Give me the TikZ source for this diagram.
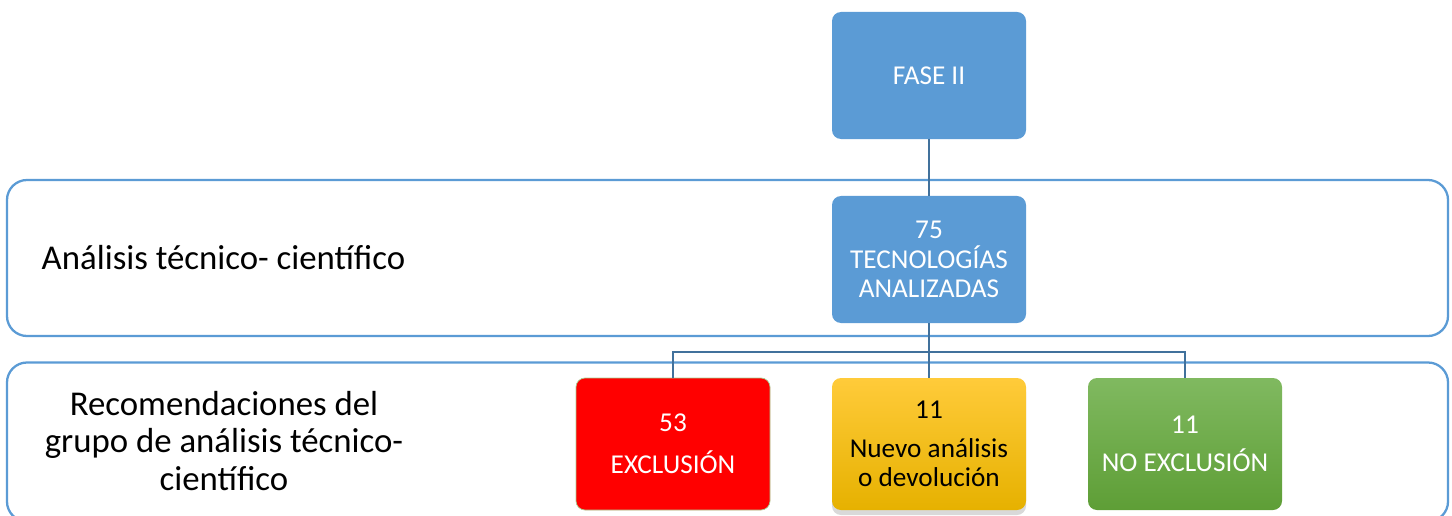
\documentclass[tikz,border=0pt]{standalone}
\usepackage{fontspec}
\setmainfont{Carlito}
\usepackage{tikz}
\usetikzlibrary{shapes,calc,positioning,shadows}
\definecolor{azul}{HTML}{5B9BD5}
\definecolor{azulosc}{HTML}{41719C}
\definecolor{rojo}{HTML}{FF0000}
\definecolor{amarilloa}{HTML}{FFCB3A}
\definecolor{amarillob}{HTML}{E6B100}
\definecolor{verdea}{HTML}{80B960}
\definecolor{verdeb}{HTML}{5E9E36}
\begin{document}
\begin{tikzpicture}[x=0.2mm, y=-0.2mm]
\tikzstyle{band}=[draw=azul,line width=1.3pt,rounded corners=4mm,minimum width=288.2mm,minimum height=31.2mm]
\tikzstyle{bx}=[rounded corners=1.8mm,minimum width=38.8mm,minimum height=26mm,align=center,font=\fontsize{15.5}{16.8}\selectfont]
\tikzstyle{lbl}=[draw=none,align=center,font=\fontsize{19.8}{21.2}\selectfont]
\tikzstyle{con}=[draw=azulosc,line width=1.1pt]
\useasboundingbox (0,0) rectangle (1452,516);
% bands
\node[band] (b1) at (727.5,258) {};
\node[band,minimum height=31.8mm] (b2) at (727.5,442) {};
\node[lbl] (l1) at (223.5,258) {Análisis técnico- científico};
\node[lbl] (l2) at (224,441) {Recomendaciones del\\ grupo de análisis técnico-\\ científico};
% boxes
\node[bx,fill=azul,text=white,minimum height=25.4mm] (fase) at (929,75.5) {FASE II};
\node[bx,fill=azul,text=white,minimum height=25.4mm] (tec) at (929,259.5) {75\\ TECNOLOGÍAS\\ ANALIZADAS};
\node[bx,fill=rojo,draw=verdea!70,thin,text=white,minimum height=26.4mm] (excl) at (673,444) {53\\[7pt] EXCLUSIÓN};
\node[bx,top color=amarilloa,bottom color=amarillob,drop shadow={opacity=0.3,shadow xshift=0mm,shadow yshift=-1mm},minimum height=26.4mm] (nuevo) at (929,444) {11\\[5pt] Nuevo análisis\\ o devolución};
\node[bx,top color=verdea,bottom color=verdeb,text=white,minimum height=26.4mm] (noexcl) at (1185,444) {11\\[5pt] NO EXCLUSIÓN};
% connectors
\draw[con] (fase.south) -- (tec.north);
\draw[con] (tec.south) -- (nuevo.north);
\draw[con] (excl.north) -- ++(0,-26) -| (noexcl.north);
\end{tikzpicture}
\end{document}
